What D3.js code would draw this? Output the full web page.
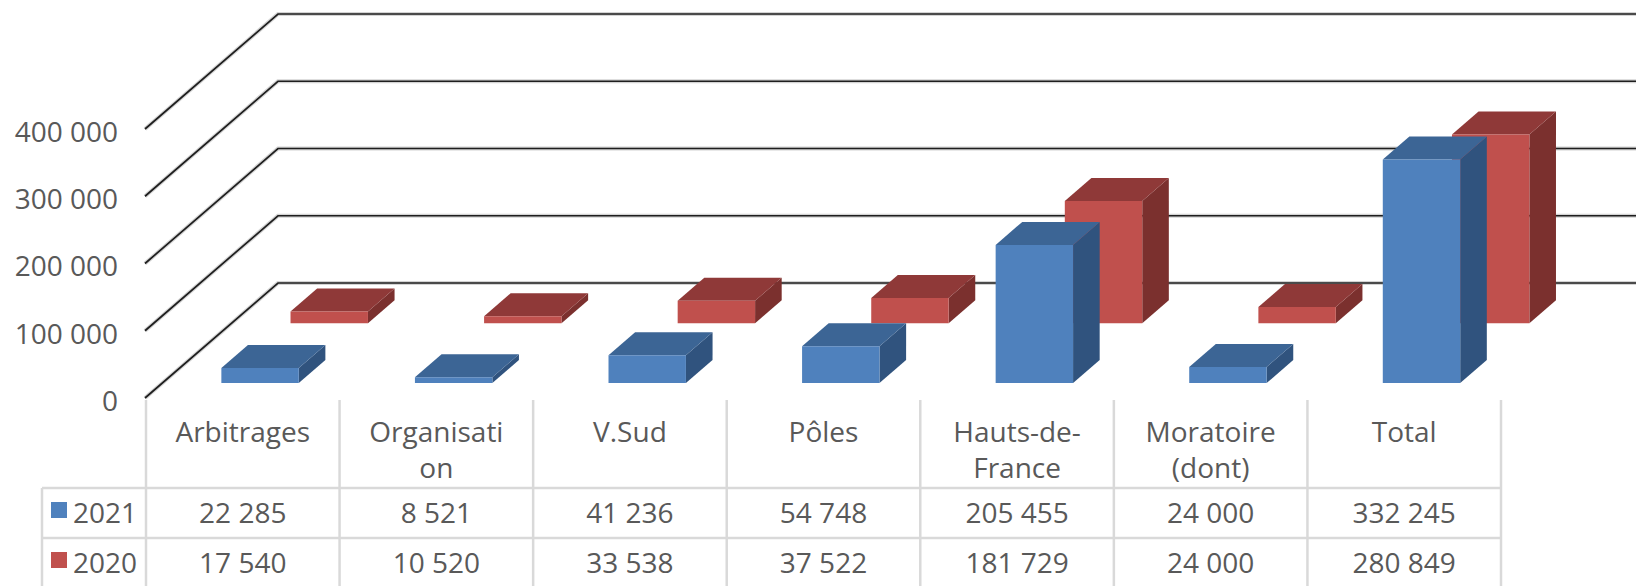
<!DOCTYPE html>
<html>
<head>
<meta charset="utf-8">
<script src="https://cdn.jsdelivr.net/npm/d3@7/dist/d3.min.js"></script>
<style>
  html, body { margin: 0; padding: 0; background: #ffffff; }
  svg { display: block; }
  text { font-family: "Open Sans", "Noto Sans", sans-serif; fill: #595959; }
</style>
</head>
<body>
<svg id="chart" width="1649" height="586"></svg>
<script>
// Category headings, already split into the lines shown in the table header
const categoryLines = [
  ["Arbitrages"],
  ["Organisati", "on"],
  ["V.Sud"],
  ["Pôles"],
  ["Hauts-de-", "France"],
  ["Moratoire", "(dont)"],
  ["Total"]
];
const seriesNames = ["2021", "2020"];
const values2021 = [22285, 8521, 41236, 54748, 205455, 24000, 332245];
const values2020 = [17540, 10520, 33538, 37522, 181729, 24000, 280849];
const yTicks = [0, 100000, 200000, 300000, 400000];

const seriesValues = [values2021, values2020];
const seriesColors = [
  { front: "#4f81bd", top: "#3c6595", side: "#30537e" },
  { front: "#c0504d", top: "#8f3938", side: "#7b302e" }
];
// depth slot of each series (fraction of the floor depth)
const seriesDepth = [[0.13, 0.33], [0.65, 0.85]];

const W = 1649, H = 586;
const svg = d3.select("#chart");

const plotLeft = 146, plotRight = 1501;
const DX = 133, DY = -115;   // oblique depth vector of the floor

const n = categoryLines.length;
const xBar = d3.scaleBand().domain(d3.range(n)).range([plotLeft, plotRight])
  .paddingInner(0.6).paddingOuter(0.3);
const xCol = d3.scaleBand().domain(d3.range(n)).range([plotLeft, plotRight]);
const y = d3.scaleLinear().domain([0, 400000]).range([398, 129]);

const P = (xp, v, d) => [xp + d * DX, y(v) + d * DY];
const poly = pts => "M" + pts.map(p => p.join(",")).join("L") + "Z";

const fmt = d3.formatLocale({ decimal: ",", thousands: " ", grouping: [3], currency: ["", " €"] }).format(",d");

// ---- walls: gridlines running along the side wall and the back wall
const grid = svg.append("g");
yTicks.forEach(t => {
  const pts = [P(plotLeft - 1, t, 0), P(plotLeft - 1, t, 1), P(plotRight + 2, t, 1)];
  const path = "M" + pts.map(p => p.join(",")).join("L");
  grid.append("path").attr("d", path).attr("fill", "none")
    .attr("stroke", "#b5b5b5").attr("stroke-width", 4).attr("stroke-opacity", 0.6);
  grid.append("path").attr("d", path).attr("fill", "none")
    .attr("stroke", "#1e1e1e").attr("stroke-width", 1.7);
});

// ---- value axis labels
svg.append("g").selectAll("text").data(yTicks).join("text")
  .attr("x", 118).attr("y", d => y(d) + 3)
  .attr("dy", "0.35em")
  .attr("text-anchor", "end")
  .style("font-size", "28px")
  .text(d => fmt(d));

// ---- 3D bars, back series first so the front row overlaps it
const bars = svg.append("g");
[1, 0].forEach(s => {
  const [d0, d1] = seriesDepth[s];
  const col = seriesColors[s];
  seriesValues[s].forEach((v, i) => {
    const x0 = xBar(i), x1 = x0 + xBar.bandwidth();
    const g = bars.append("g");
    g.append("path").attr("fill", col.side)
      .attr("d", poly([P(x1, v, d0), P(x1, v, d1), P(x1, 0, d1), P(x1, 0, d0)]));
    g.append("path").attr("fill", col.top)
      .attr("d", poly([P(x0, v, d0), P(x1, v, d0), P(x1, v, d1), P(x0, v, d1)]));
    g.append("path").attr("fill", col.front)
      .attr("d", poly([P(x0, v, d0), P(x1, v, d0), P(x1, 0, d0), P(x0, 0, d0)]));
  });
});

// ---- data table
const table = svg.append("g");
const lineCol = "#d9d9d9";
const headTop = 400, row1 = 488, row2 = 538, tableBottom = 588;
const legendLeft = 42;

// vertical separators
d3.range(n + 1).forEach(k => {
  const x = plotLeft + k * xCol.step();
  table.append("line").attr("x1", x).attr("x2", x)
    .attr("y1", headTop).attr("y2", tableBottom)
    .attr("stroke", lineCol).attr("stroke-width", 2.5);
});
table.append("line").attr("x1", legendLeft).attr("x2", legendLeft)
  .attr("y1", row1).attr("y2", tableBottom)
  .attr("stroke", lineCol).attr("stroke-width", 2.5);
[row1, row2, tableBottom].forEach(yy => {
  table.append("line").attr("x1", legendLeft).attr("x2", plotRight)
    .attr("y1", yy).attr("y2", yy)
    .attr("stroke", lineCol).attr("stroke-width", 2.5);
});

// header labels
categoryLines.forEach((lines, i) => {
  const t = table.append("text")
    .attr("text-anchor", "middle")
    .style("font-size", "28px");
  lines.forEach((ln, j) => {
    t.append("tspan").attr("x", xCol(i) + xCol.bandwidth() / 2)
      .attr("y", 442 + j * 36).text(ln);
  });
});

// series rows with legend keys
const rowBase = [523, 573];
seriesNames.forEach((name, s) => {
  table.append("rect").attr("x", 51).attr("y", rowBase[s] - 21)
    .attr("width", 16).attr("height", 16).attr("fill", seriesColors[s].front);
  table.append("text").attr("x", 73).attr("y", rowBase[s])
    .style("font-size", "28px").text(name);
  table.append("g").selectAll("text").data(seriesValues[s]).join("text")
    .attr("x", (d, i) => xCol(i) + xCol.bandwidth() / 2)
    .attr("y", rowBase[s])
    .attr("text-anchor", "middle")
    .style("font-size", "28px")
    .text(d => fmt(d));
});
</script>
</body>
</html>
